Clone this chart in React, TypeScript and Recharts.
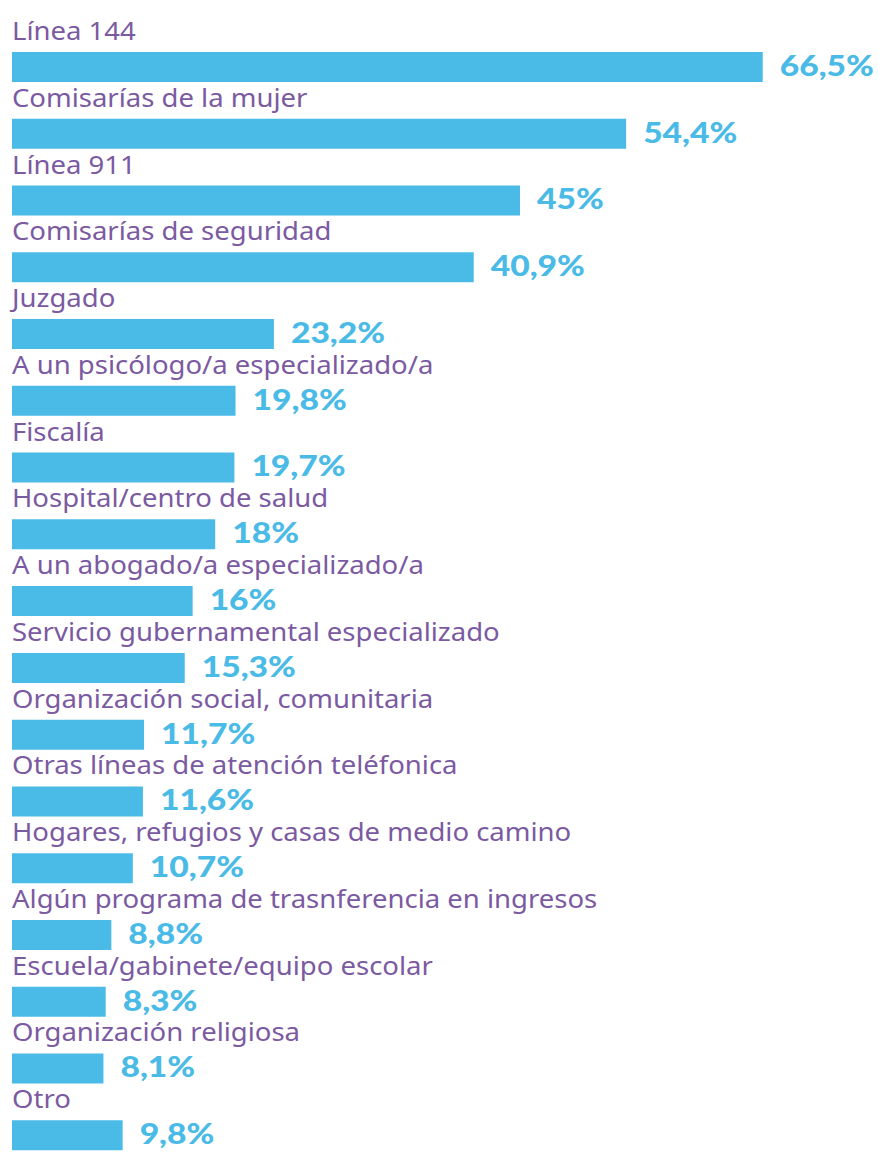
import React from "react";
import { BarChart, Bar, XAxis, YAxis, LabelList } from "recharts";

const categories = [
  "Línea 144",
  "Comisarías de la mujer",
  "Línea 911",
  "Comisarías de seguridad",
  "Juzgado",
  "A un psicólogo/a especializado/a",
  "Fiscalía",
  "Hospital/centro de salud",
  "A un abogado/a especializado/a",
  "Servicio gubernamental especializado",
  "Organización social, comunitaria",
  "Otras líneas de atención teléfonica",
  "Hogares, refugios y casas de medio camino",
  "Algún programa de trasnferencia en ingresos",
  "Escuela/gabinete/equipo escolar",
  "Organización religiosa",
  "Otro",
];

const values = [66.5, 54.4, 45, 40.9, 23.2, 19.8, 19.7, 18, 16, 15.3, 11.7, 11.6, 10.7, 8.8, 8.3, 8.1, 9.8];

const valueLabels = [
  "66,5%", "54,4%", "45%", "40,9%", "23,2%", "19,8%", "19,7%", "18%", "16%",
  "15,3%", "11,7%", "11,6%", "10,7%", "8,8%", "8,3%", "8,1%", "9,8%",
];

const data = categories.map((name, i) => ({ name, value: values[i], label: valueLabels[i] }));

const BLUE = "#4abae6";
const PURPLE = "#7b5aa2";

const CategoryLabel = (props: any) => {
  const { x, y, value } = props;
  return (
    <text
      transform={`translate(${x},${y - 12}) scale(1.1,1)`}
      x={0}
      y={0}
      fill={PURPLE}
      fontFamily="'Noto Sans', sans-serif"
      fontSize={25}
    >
      {value}
    </text>
  );
};

const ValueLabel = (props: any) => {
  const { x, y, width, height, value } = props;
  return (
    <text
      transform={`translate(${x + width + 17},${y + height / 2 - 2}) scale(1.2,1)`}
      x={0}
      y={0}
      fill={BLUE}
      fontFamily="Lato, sans-serif"
      fontWeight={900}
      fontSize={28}
      dominantBaseline="central"
    >
      {value}
    </text>
  );
};

export default function App() {
  return (
    <div style={{ position: "absolute", left: 0, top: 0, width: 879, height: 1153, overflow: "hidden", background: "#fff" }}>
      <BarChart
        width={879}
        height={1170}
        data={data}
        layout="vertical"
        margin={{ top: 34, right: 0, bottom: 1, left: 12 }}
        barCategoryGap={0}
      >
        <XAxis type="number" domain={[0, 76.8]} hide />
        <YAxis type="category" dataKey="name" hide />
        <Bar dataKey="value" fill={BLUE} barSize={30} isAnimationActive={false}>
          <LabelList dataKey="name" content={CategoryLabel} />
          <LabelList dataKey="label" content={ValueLabel} />
        </Bar>
      </BarChart>
    </div>
  );
}
